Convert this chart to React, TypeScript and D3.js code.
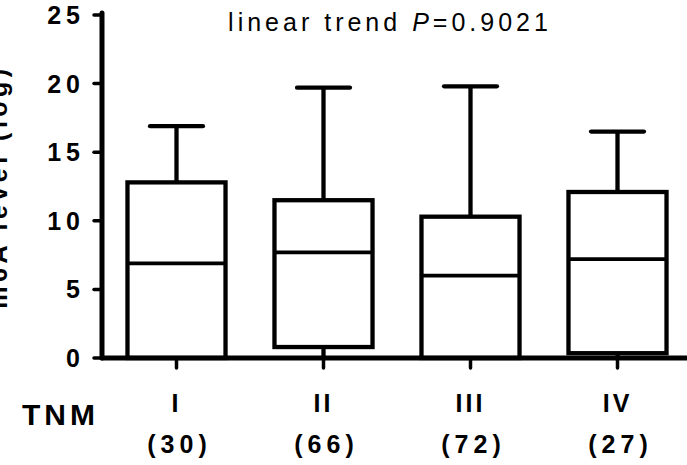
import React from "react";
import * as d3 from "d3";

const categories = ["I", "II", "III", "IV"];
const counts = ["(30)", "(66)", "(72)", "(27)"];
const whiskerLow = [0, 0, 0, 0];
const q1 = [0, 0.8, 0, 0.35];
const median = [6.9, 7.7, 6.0, 7.2];
const q3 = [12.8, 11.5, 10.3, 12.1];
const whiskerHigh = [16.9, 19.7, 19.8, 16.5];
const yTicks = [0, 5, 10, 15, 20, 25];
const title = "linear trend ";
const pText = "=0.9021";
const yLabel = "m6A level (log)";
const xTitle = "TNM";

const W = 687;
const H = 465;
const FONT = "'Liberation Sans', Arial, sans-serif";

export default function App() {
  const y = d3.scaleLinear().domain([0, 25]).range([358, 15]);
  const x = d3.scaleBand().domain(categories).range([103, 691]);
  const bw = x.bandwidth();
  const boxW = bw * 0.667;
  const capW = bw * 0.36;
  const axisX = 102;
  const sw = 4.3;

  return (
    <svg
      width={W}
      height={H}
      style={{ position: "absolute", left: 0, top: 0, background: "#fff" }}
      fontFamily={FONT}
    >
      <rect width={W} height={H} fill="#fff" />
      {/* title */}
      <text x={390} y={31} textAnchor="middle" fontSize={25} letterSpacing={4} fill="#000">
        {title}
        <tspan fontStyle="italic">P</tspan>
        {pText}
      </text>
      {/* y axis label */}
      <text
        transform={`translate(7, ${(y(0) + y(25)) / 2}) rotate(-90)`}
        textAnchor="middle"
        fontSize={25}
        fontWeight="bold"
        letterSpacing={4.5}
        fill="#000"
      >
        {yLabel}
      </text>
      {/* boxes */}
      {categories.map((c, i) => {
        const cx = (x(c) as number) + bw / 2;
        return (
          <g key={c} stroke="#000" fill="none" strokeWidth={sw}>
            <line x1={cx} x2={cx} y1={y(q3[i])} y2={y(whiskerHigh[i])} />
            <line x1={cx} x2={cx} y1={y(q1[i])} y2={y(whiskerLow[i])} />
            <line
              x1={cx - capW / 2}
              x2={cx + capW / 2}
              y1={y(whiskerHigh[i])}
              y2={y(whiskerHigh[i])}
              strokeLinecap="round"
            />
            <rect
              x={cx - boxW / 2}
              y={y(q3[i])}
              width={boxW}
              height={y(q1[i]) - y(q3[i])}
              fill="#fff"
            />
            <line
              x1={cx - boxW / 2}
              x2={cx + boxW / 2}
              y1={y(median[i])}
              y2={y(median[i])}
              strokeWidth={3.8}
            />
          </g>
        );
      })}
      {/* y axis */}
      <line x1={axisX} x2={axisX} y1={y(25) - 2} y2={y(0)} stroke="#000" strokeWidth={5} strokeLinecap="round" />
      {yTicks.map((t) => (
        <g key={t}>
          <line x1={axisX - 8} x2={axisX} y1={y(t)} y2={y(t)} stroke="#000" strokeWidth={3.5} strokeLinecap="round" />
          <text
            x={axisX - 17}
            y={y(t)}
            dy="0.36em"
            textAnchor="end"
            fontSize={25}
            fontWeight="bold"
            letterSpacing={5}
            fill="#000"
          >
            {t}
          </text>
        </g>
      ))}
      {/* x axis */}
      <line x1={axisX} x2={W} y1={y(0)} y2={y(0)} stroke="#000" strokeWidth={5} strokeLinecap="round" />
      {categories.map((c, i) => {
        const cx = (x(c) as number) + bw / 2;
        return (
          <g key={c}>
            <line x1={cx} x2={cx} y1={y(0)} y2={y(0) + 10} stroke="#000" strokeWidth={3.5} strokeLinecap="round" />
            <text x={cx} y={412} textAnchor="middle" fontSize={25} fontWeight="bold" letterSpacing={3} fill="#000">
              {c}
            </text>
            <text x={cx + 3} y={453} textAnchor="middle" fontSize={25} fontWeight="bold" letterSpacing={5} fill="#000">
              {counts[i]}
            </text>
          </g>
        );
      })}
      <text x={22} y={425} fontSize={30} fontWeight="bold" letterSpacing={4} fill="#000">
        {xTitle}
      </text>
    </svg>
  );
}
